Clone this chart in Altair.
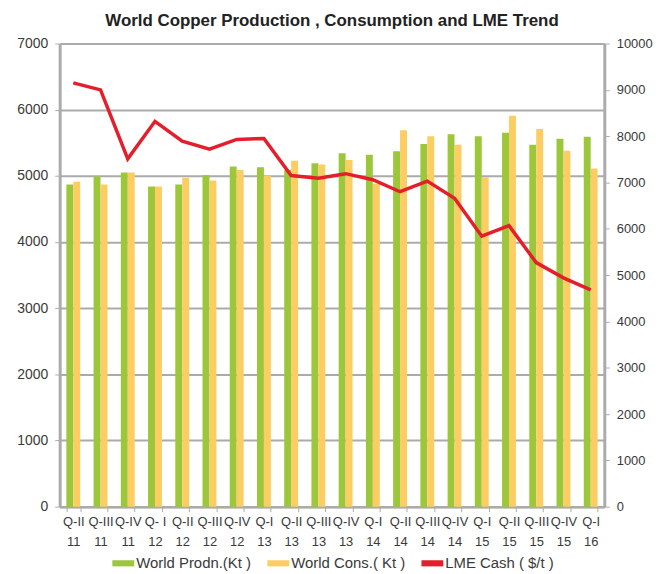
import altair as alt
import pandas as pd

quarters = ["Q-II|11", "Q-III|11", "Q-IV|11", "Q- I|12", "Q-II|12", "Q-III|12", "Q-IV|12",
            "Q-I|13", "Q-II|13", "Q-III|13", "Q-IV|13", "Q-I|14", "Q-II|14", "Q-III|14",
            "Q-IV|14", "Q-I|15", "Q-II|15", "Q-III|15", "Q-IV|15", "Q-I|16"]
production = [4870, 4990, 5050, 4840, 4870, 5010, 5140, 5130, 5090, 5190,
              5340, 5320, 5370, 5480, 5630, 5600, 5650, 5470, 5560, 5590]
consumption = [4910, 4870, 5050, 4840, 4970, 4930, 5090, 5000, 5230, 5170,
               5240, 4880, 5690, 5600, 5470, 4980, 5910, 5710, 5380, 5110]
lme_cash = [9150, 9000, 7510, 8320, 7890, 7720, 7930, 7950, 7150, 7090,
            7190, 7060, 6800, 7030, 6660, 5840, 6070, 5270, 4940, 4680]

series_names = ["World Prodn.(Kt )", "World Cons.( Kt )", "LME Cash ( $/t )"]
colors = ["#9dc73a", "#fccd63", "#e41f2b"]

bars = pd.DataFrame({
    "quarter": quarters * 2,
    "series": [series_names[0]] * len(quarters) + [series_names[1]] * len(quarters),
    "value": production + consumption,
})
line = pd.DataFrame({"quarter": quarters, "lme": lme_cash,
                     "series": [series_names[2]] * len(quarters)})

FONT = "Liberation Sans"
GRAY = "#ababab"
TXT = "#3a3a3a"

x_enc = alt.X("quarter:N", sort=quarters, title=None,
              scale=alt.Scale(paddingInner=0.49, paddingOuter=0.245),
              axis=alt.Axis(labelExpr="split(datum.label, '|')", labelAngle=0,
                            labelLineHeight=20, labelFontSize=13, labelColor=TXT,
                            labelFont=FONT, tickBand="extent", tickColor=GRAY,
                            tickSize=5, domainColor=GRAY, domainWidth=2.5,
                            labelPadding=4))

color_scale = alt.Scale(domain=series_names, range=colors)
legend = alt.Legend(title=None, orient="none", legendX=53, legendY=512,
                    direction="horizontal",
                    symbolType="M-1,-0.28H1V0.28H-1Z", symbolSize=484,
                    symbolStrokeWidth=0, labelFontSize=15, labelFont=FONT,
                    labelColor=TXT, columnPadding=16, labelOffset=2)

bar_layer = alt.Chart(bars).mark_bar().encode(
    x=x_enc,
    xOffset=alt.XOffset("series:N", sort=series_names[:2]),
    y=alt.Y("value:Q", title=None,
            scale=alt.Scale(domain=[0, 7000]),
            axis=alt.Axis(values=list(range(0, 7001, 1000)), format="d", grid=True,
                          gridColor=GRAY, gridWidth=2, domainColor=GRAY, domainWidth=3,
                          tickColor=GRAY, tickSize=5, labelFontSize=14, labelColor=TXT,
                          labelFont=FONT, labelPadding=7)),
    color=alt.Color("series:N", scale=color_scale, legend=legend),
)

line_layer = alt.Chart(line).mark_line(strokeWidth=3.5).encode(
    x=alt.X("quarter:N", sort=quarters),
    y=alt.Y("lme:Q", title=None,
            scale=alt.Scale(domain=[0, 10000]),
            axis=alt.Axis(orient="right", values=list(range(0, 10001, 1000)), format="d",
                          grid=False, domainColor=GRAY, domainWidth=3, tickColor=GRAY,
                          tickSize=5, labelFontSize=13, labelColor=TXT, labelFont=FONT,
                          labelPadding=7)),
    color=alt.Color("series:N", scale=color_scale, legend=legend),
)

chart = alt.layer(bar_layer, line_layer).resolve_scale(y="independent").properties(
    width=548, height=466,
    padding={"left": 8, "top": 2, "right": 0, "bottom": 0},
    title=alt.TitleParams("World Copper Production , Consumption and LME Trend",
                          font=FONT, fontSize=17, fontWeight="bold", color="#222",
                          anchor="middle", offset=7),
).configure_view(stroke=None)

chart.save("out.html", embed_options={"renderer": "svg", "actions": False})
